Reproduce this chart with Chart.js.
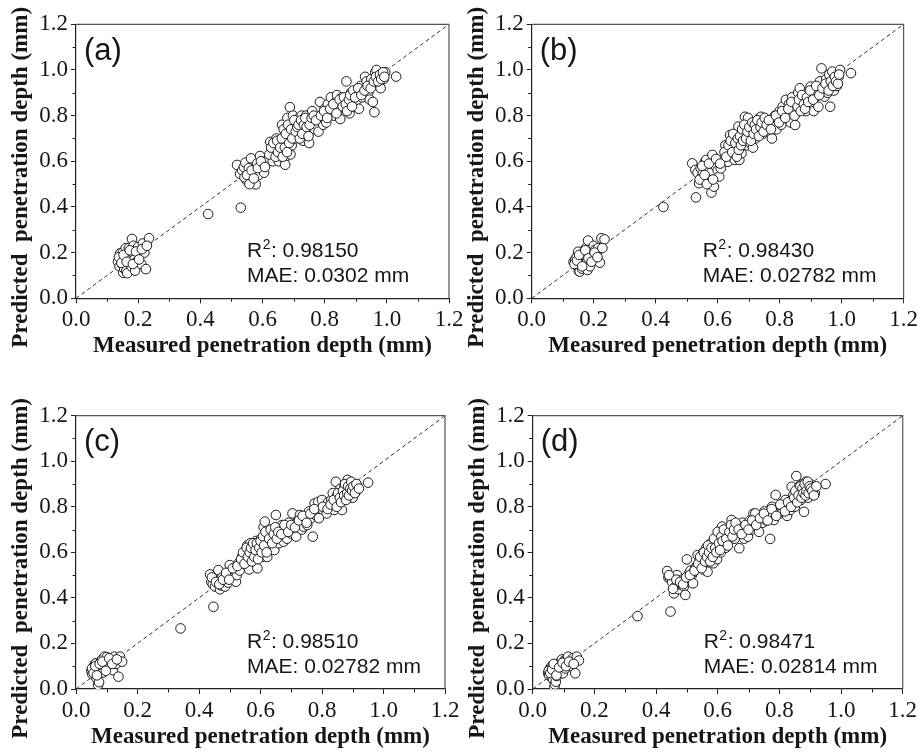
<!DOCTYPE html>
<html>
<head>
<meta charset="utf-8">
<script src="https://cdn.jsdelivr.net/npm/chart.js@4.4.1/dist/chart.umd.min.js"></script>
<style>
  html, body { margin: 0; padding: 0; background: #ffffff; }
  body { width: 921px; height: 752px; position: relative; overflow: hidden; }
  canvas { position: absolute; }
</style>
</head>
<body>
<canvas id="panelA"></canvas>
<canvas id="panelB"></canvas>
<canvas id="panelC"></canvas>
<canvas id="panelD"></canvas>
<script>
// ---- data -------------------------------------------------------------
const tickValues = [0.0, 0.2, 0.4, 0.6, 0.8, 1.0, 1.2];
const minorTickValues = [0.1, 0.3, 0.5, 0.7, 0.9, 1.1];
const identityLine = [0, 1.2];

// measured depths shared by models (a) and (b)
const measuredAB = [
  0.135,0.14,0.142,0.145,0.148,0.15,0.152,0.155,0.158,0.16,
  0.162,0.165,0.168,0.17,0.172,0.175,0.178,0.18,0.182,0.185,
  0.188,0.19,0.195,0.2,0.205,0.21,0.215,0.22,0.225,0.235,
  0.425,0.53,
  0.518,0.528,0.535,0.54,0.545,0.548,0.552,0.556,0.56,0.563,
  0.566,0.57,0.574,0.578,0.58,0.583,0.588,0.592,0.6,0.605,0.61,0.615,
  0.62,0.625,0.63,0.633,0.637,0.64,0.645,0.648,0.652,0.655,
  0.66,0.663,0.667,0.67,0.673,0.677,0.68,0.684,0.688,0.69,
  0.694,0.698,0.7,0.705,0.71,0.714,0.718,0.722,0.726,0.73,
  0.735,0.74,0.745,0.75,0.755,0.76,0.768,0.775,0.78,0.785,
  0.79,0.795,0.8,0.805,0.81,0.815,0.82,0.825,0.83,0.835,
  0.84,0.845,0.85,0.855,0.86,0.865,0.87,0.875,0.88,0.885,
  0.89,0.895,0.9,0.905,0.91,0.915,0.92,0.925,0.93,0.935,
  0.94,0.945,0.95,0.955,0.96,0.963,0.967,0.97,0.975,0.98,
  0.985,0.99,0.995,1.03,
  0.138,0.146,0.153,0.163,0.173,0.183,0.193,0.203,0.212,0.228,
  0.542,0.55,0.558,0.565,0.572,0.585,0.595,0.608,
  0.622,0.628,0.635,0.642,0.647,0.65,0.657,0.662,0.665,0.668,
  0.672,0.675,0.679,0.682,0.686,0.692,0.696,0.702,0.707,0.712,
  0.716,0.72,0.724,0.728,0.733,0.738,0.742,0.748,0.752,0.758,
  0.765,0.772,0.788,0.798,0.808,0.818,0.828,0.838,0.848,0.858,
  0.862,0.868,0.872,0.878,0.882,0.888,0.892,0.898,0.908,0.918,
  0.928,0.938,0.948,0.958,0.965,0.972,0.978,0.982,0.988,0.992
];
const predictedA = [
  0.16,0.14,0.197,0.17,0.15,0.20,0.112,0.13,0.18,0.22,
  0.12,0.11,0.193,0.22,0.153,0.18,0.14,0.26,0.20,0.23,
  0.17,0.121,0.16,0.225,0.193,0.15,0.24,0.20,0.128,0.263,
  0.369,0.397,
  0.584,0.545,0.56,0.575,0.594,0.518,0.53,0.57,0.511,0.613,
  0.52,0.507,0.55,0.499,0.577,0.591,0.54,0.623,0.58,0.55,0.59,0.606,
  0.61,0.685,0.65,0.6,0.63,0.665,0.70,0.62,0.60,0.67,
  0.64,0.76,0.70,0.61,0.585,0.69,0.79,0.72,0.837,0.63,
  0.67,0.80,0.74,0.70,0.77,0.72,0.79,0.75,0.80,0.69,
  0.77,0.80,0.73,0.68,0.78,0.82,0.74,0.76,0.73,0.86,
  0.79,0.76,0.83,0.77,0.85,0.80,0.88,0.82,0.80,0.86,
  0.89,0.84,0.785,0.88,0.87,0.83,0.95,0.86,0.81,0.90,
  0.86,0.84,0.90,0.87,0.83,0.93,0.88,0.91,0.97,0.95,
  0.90,0.87,0.96,0.86,0.815,0.99,1.0,0.97,0.94,0.92,
  0.98,0.96,0.99,0.971,
  0.18,0.155,0.19,0.16,0.21,0.15,0.205,0.17,0.215,0.23,
  0.53,0.54,0.50,0.56,0.525,0.57,0.60,0.575,
  0.63,0.66,0.68,0.62,0.69,0.64,0.66,0.70,0.62,0.74,
  0.66,0.72,0.64,0.76,0.68,0.74,0.70,0.78,0.73,0.75,
  0.76,0.70,0.78,0.72,0.76,0.79,0.75,0.71,0.76,0.79,
  0.80,0.78,0.80,0.82,0.79,0.83,0.85,0.81,0.87,0.84,
  0.88,0.85,0.82,0.87,0.89,0.84,0.91,0.88,0.92,0.89,
  0.91,0.93,0.92,0.95,0.97,0.95,0.98,0.96,0.99,0.97
];
const predictedB = [
  0.16,0.17,0.15,0.18,0.14,0.204,0.12,0.117,0.146,0.19,
  0.13,0.17,0.20,0.15,0.19,0.22,0.16,0.124,0.253,0.21,
  0.14,0.18,0.175,0.23,0.212,0.19,0.22,0.156,0.263,0.258,
  0.40,0.442,
  0.591,0.562,0.55,0.504,0.57,0.53,0.547,0.518,0.6,0.606,
  0.511,0.569,0.54,0.55,0.463,0.628,0.489,0.58,0.56,0.533,0.569,0.6,
  0.61,0.67,0.64,0.598,0.655,0.715,0.62,0.70,0.66,0.606,
  0.68,0.64,0.752,0.606,0.66,0.635,0.72,0.69,0.795,0.74,
  0.67,0.79,0.72,0.68,0.75,0.66,0.77,0.70,0.74,0.723,
  0.79,0.795,0.72,0.76,0.74,0.78,0.75,0.70,0.767,0.80,
  0.74,0.78,0.82,0.76,0.84,0.80,0.869,0.80,0.85,0.77,
  0.88,0.83,0.759,0.86,0.90,0.92,0.84,0.88,0.847,0.82,
  0.90,0.87,0.927,0.85,0.82,0.88,0.90,0.839,0.95,1.007,
  0.92,0.883,0.96,0.90,0.98,0.839,0.94,0.993,0.91,0.96,
  0.93,0.97,1.0,0.986,
  0.15,0.165,0.19,0.14,0.21,0.175,0.16,0.20,0.18,0.22,
  0.52,0.58,0.54,0.50,0.59,0.52,0.61,0.59,
  0.64,0.62,0.67,0.69,0.64,0.72,0.68,0.62,0.70,0.65,
  0.71,0.67,0.74,0.69,0.76,0.70,0.73,0.75,0.69,0.77,
  0.72,0.76,0.74,0.78,0.71,0.75,0.77,0.73,0.79,0.76,
  0.78,0.74,0.80,0.77,0.82,0.79,0.83,0.86,0.80,0.84,
  0.87,0.82,0.89,0.85,0.83,0.88,0.86,0.91,0.87,0.93,
  0.89,0.92,0.94,0.91,0.95,0.93,0.97,0.95,0.94,0.98
];

// measured depths shared by models (c) and (d)
const measuredCD = [
  0.05,0.053,0.056,0.058,0.06,0.062,0.065,0.067,0.07,0.072,
  0.075,0.078,0.08,0.083,0.085,0.088,0.09,0.093,0.095,0.098,
  0.1,0.103,0.106,0.11,0.115,0.12,0.125,0.13,0.138,0.143,0.15,
  0.34,0.447,
  0.436,0.44,0.445,0.452,0.458,0.463,0.468,0.472,0.476,0.48,
  0.485,0.49,0.495,0.5,0.503,0.507,0.512,0.516,0.52,0.523,0.527,0.532,
  0.535,0.54,0.545,0.55,0.553,0.557,0.56,0.563,0.567,0.57,
  0.574,0.578,0.582,0.586,0.59,0.594,0.598,0.602,0.606,0.61,
  0.614,0.618,0.622,0.626,0.63,0.635,0.64,0.645,0.65,0.655,
  0.66,0.665,0.67,0.675,0.68,0.686,0.692,0.698,0.704,0.71,
  0.716,0.722,0.728,0.734,0.74,0.746,0.752,0.758,0.764,0.77,
  0.776,0.782,0.788,0.795,0.8,0.805,0.81,0.815,0.82,0.825,
  0.83,0.835,0.84,0.845,0.85,0.855,0.86,0.865,0.87,0.873,
  0.876,0.88,0.883,0.886,0.89,0.893,0.896,0.9,0.905,0.91,
  0.915,0.95,
  0.052,0.057,0.063,0.068,0.077,0.086,0.097,0.108,0.118,0.133,
  0.442,0.455,0.466,0.478,0.488,0.498,0.51,0.525,
  0.537,0.543,0.548,0.555,0.559,0.565,0.569,0.572,0.576,0.58,
  0.584,0.588,0.592,0.596,0.6,0.604,0.608,0.612,0.616,0.62,
  0.628,0.633,0.638,0.643,0.648,0.653,0.658,0.668,0.678,0.69,
  0.7,0.712,0.725,0.737,0.75,0.762,0.775,0.79,0.803,0.818,
  0.828,0.838,0.848,0.852,0.858,0.862,0.868,0.872,0.875,0.878,
  0.882,0.885,0.888,0.892,0.895,0.898,0.902,0.907,0.912,0.92
];
const predictedC = [
  0.08,0.065,0.09,0.10,0.075,0.11,0.113,0.047,0.09,0.018,
  0.03,0.10,0.12,0.085,0.13,0.072,0.11,0.142,0.10,0.125,
  0.14,0.09,0.12,0.10,0.13,0.083,0.142,0.11,0.054,0.142,0.12,
  0.266,0.361,
  0.503,0.47,0.46,0.45,0.48,0.522,0.438,0.455,0.49,0.47,
  0.45,0.50,0.467,0.544,0.50,0.52,0.49,0.53,0.471,0.50,0.55,0.52,
  0.55,0.581,0.57,0.60,0.56,0.63,0.54,0.525,0.64,0.59,
  0.62,0.603,0.57,0.65,0.53,0.60,0.63,0.66,0.58,0.71,
  0.735,0.62,0.58,0.65,0.62,0.68,0.66,0.61,0.764,0.70,
  0.64,0.69,0.72,0.647,0.70,0.66,0.73,0.683,0.771,0.70,
  0.669,0.74,0.764,0.70,0.713,0.75,0.72,0.78,0.75,0.669,
  0.815,0.76,0.822,0.79,0.83,0.78,0.80,0.771,0.82,0.80,
  0.83,0.86,0.786,0.91,0.85,0.82,0.88,0.786,0.84,0.89,
  0.86,0.88,0.918,0.90,0.84,0.87,0.90,0.84,0.88,0.866,
  0.89,0.906,
  0.09,0.07,0.10,0.06,0.11,0.12,0.08,0.135,0.11,0.13,
  0.49,0.47,0.46,0.48,0.51,0.48,0.53,0.54,
  0.57,0.60,0.55,0.62,0.58,0.60,0.62,0.56,0.64,0.58,
  0.61,0.64,0.57,0.62,0.65,0.60,0.67,0.63,0.69,0.60,
  0.66,0.70,0.64,0.68,0.71,0.66,0.69,0.68,0.72,0.69,
  0.72,0.71,0.74,0.76,0.73,0.77,0.79,0.75,0.80,0.79,
  0.81,0.83,0.80,0.86,0.84,0.82,0.87,0.85,0.90,0.83,
  0.86,0.89,0.85,0.88,0.91,0.87,0.89,0.86,0.90,0.88
];
const predictedD = [
  0.07,0.061,0.09,0.08,0.098,0.05,0.10,0.04,0.006,0.02,
  0.032,0.057,0.09,0.11,0.08,0.105,0.12,0.07,0.13,0.069,
  0.10,0.125,0.09,0.13,0.142,0.113,0.10,0.135,0.069,0.142,0.125,
  0.32,0.34,
  0.518,0.49,0.486,0.47,0.42,0.45,0.50,0.438,0.46,0.464,
  0.48,0.45,0.413,0.569,0.49,0.508,0.52,0.50,0.464,0.515,0.53,0.54,
  0.588,0.56,0.58,0.55,0.60,0.522,0.57,0.62,0.515,0.618,
  0.59,0.64,0.60,0.552,0.65,0.61,0.57,0.63,0.66,0.60,
  0.713,0.64,0.69,0.62,0.67,0.65,0.70,0.742,0.68,0.66,
  0.72,0.70,0.618,0.69,0.73,0.66,0.71,0.669,0.74,0.70,
  0.77,0.771,0.72,0.69,0.75,0.73,0.78,0.74,0.76,0.659,
  0.80,0.742,0.852,0.79,0.77,0.81,0.778,0.80,0.83,0.76,
  0.80,0.786,0.888,0.85,0.80,0.935,0.86,0.89,0.83,0.87,
  0.90,0.778,0.85,0.91,0.88,0.84,0.87,0.90,0.859,0.88,
  0.86,0.90,
  0.08,0.07,0.085,0.11,0.06,0.095,0.115,0.10,0.12,0.11,
  0.50,0.44,0.48,0.47,0.46,0.49,0.50,0.52,
  0.55,0.58,0.53,0.60,0.56,0.58,0.63,0.60,0.56,0.62,
  0.58,0.66,0.62,0.60,0.69,0.64,0.61,0.67,0.65,0.70,
  0.66,0.63,0.69,0.72,0.67,0.70,0.73,0.70,0.68,0.72,
  0.70,0.74,0.72,0.75,0.77,0.74,0.79,0.76,0.81,0.78,
  0.82,0.80,0.84,0.87,0.82,0.85,0.89,0.84,0.88,0.86,
  0.90,0.85,0.87,0.91,0.86,0.89,0.88,0.87,0.85,0.89
];

const panelLabels = ['(a)', '(b)', '(c)', '(d)'];
const r2Values = ['0.98150', '0.98430', '0.98510', '0.98471'];
const maeValues = ['0.0302', '0.02782', '0.02782', '0.02814'];
const xTitle = 'Measured penetration depth (mm)';
const yTitle = 'Predicted  penetration depth (mm)';

// ---- layout -----------------------------------------------------------
const Y_AXIS_W = 60;
const X_AXIS_H = 40;
const SERIF = '"Liberation Serif", "Times New Roman", serif';
const SANS = '"Liberation Sans", Arial, sans-serif';
const INK = '#161616';

// canvas box [left, top, width, height] and plot rect [left, top, right, bottom] in page px
const layout = [
  { id: 'panelA', box: [0, 0, 468, 380],     plot: [76, 24.3, 449, 298.3] },
  { id: 'panelB', box: [455, 0, 466, 380],   plot: [531.7, 24.3, 904.3, 298.3] },
  { id: 'panelC', box: [0, 391, 466, 361],   plot: [76, 415.7, 445, 689] },
  { id: 'panelD', box: [456, 391, 465, 361], plot: [532.7, 415.7, 902.7, 689] }
];
const series = [
  [measuredAB, predictedA],
  [measuredAB, predictedB],
  [measuredCD, predictedC],
  [measuredCD, predictedD]
];

// frame, minor ticks, titles and annotations
const decorations = {
  id: 'decorations',
  afterDraw(chart, args, opts) {
    const { ctx, chartArea: a, scales } = chart;
    const i = opts.index;
    ctx.save();

    // top and right frame
    ctx.strokeStyle = '#555';
    ctx.lineWidth = 1.2;
    ctx.beginPath();
    ctx.moveTo(a.left, a.top);
    ctx.lineTo(a.right, a.top);
    ctx.lineTo(a.right, a.bottom);
    ctx.stroke();

    // minor ticks
    ctx.strokeStyle = '#222';
    ctx.lineWidth = 1;
    ctx.beginPath();
    minorTickValues.forEach(v => {
      const px = Math.round(scales.x.getPixelForValue(v)) + 0.5;
      ctx.moveTo(px, a.bottom);
      ctx.lineTo(px, a.bottom + 3.5);
      const py = Math.round(scales.y.getPixelForValue(v)) + 0.5;
      ctx.moveTo(a.left, py);
      ctx.lineTo(a.left - 3.5, py);
    });
    ctx.stroke();

    ctx.fillStyle = INK;

    // axis titles
    ctx.font = 'bold 23px ' + SERIF;
    ctx.textAlign = 'center';
    ctx.textBaseline = 'alphabetic';
    ctx.fillText(xTitle, (a.left + a.right) / 2, a.bottom + 53.5);
    ctx.save();
    ctx.translate(a.left - 49, (a.top + a.bottom) / 2 + 16);
    ctx.rotate(-Math.PI / 2);
    ctx.fillText(yTitle, 0, 0);
    ctx.restore();

    // panel label
    ctx.textAlign = 'left';
    ctx.font = '31px ' + SANS;
    ctx.fillText(panelLabels[i], a.left + 8, a.top + 35.7);

    // statistics
    const x0 = a.left + 171;
    const base1 = a.bottom - 41.5;
    const base2 = a.bottom - 16.5;
    ctx.font = '21px ' + SANS;
    ctx.fillText('R', x0, base1);
    const wR = ctx.measureText('R').width;
    ctx.font = '14px ' + SANS;
    ctx.fillText('2', x0 + wR + 0.5, base1 - 8);
    const w2 = ctx.measureText('2').width;
    ctx.font = '21px ' + SANS;
    ctx.fillText(': ' + r2Values[i], x0 + wR + w2 + 1, base1);
    ctx.fillText('MAE: ' + maeValues[i] + ' mm', x0, base2);

    ctx.restore();
  }
};

function axisOptions(fitSize) {
  return {
    type: 'linear',
    min: identityLine[0],
    max: identityLine[1],
    afterBuildTicks(s) { s.ticks = tickValues.map(v => ({ value: v })); },
    afterFit: fitSize,
    ticks: {
      autoSkip: false,
      maxRotation: 0,
      padding: 3,
      color: INK,
      font: { family: SERIF, size: 23 },
      callback: v => Number(v).toFixed(1)
    },
    grid: {
      drawOnChartArea: false,
      drawTicks: true,
      tickLength: 5,
      color: '#222',
      lineWidth: 1
    },
    border: { display: true, color: '#222', width: 1.2 }
  };
}

layout.forEach((p, i) => {
  const cv = document.getElementById(p.id);
  const [bx, by, bw, bh] = p.box;
  const [pl, pt, pr, pb] = p.plot;
  cv.width = bw; cv.height = bh;
  cv.style.left = bx + 'px'; cv.style.top = by + 'px';
  cv.style.width = bw + 'px'; cv.style.height = bh + 'px';

  const [xs, ys] = series[i];
  const points = xs.map((x, k) => ({ x: x, y: ys[k] }));

  new Chart(cv, {
    data: {
      datasets: [
        {
          type: 'scatter',
          data: points,
          pointRadius: 4.8,
          pointHoverRadius: 4.8,
          pointBackgroundColor: '#ffffff',
          pointBorderColor: '#1a1a1a',
          pointBorderWidth: 1
        },
        {
          type: 'line',
          data: [
            { x: identityLine[0], y: identityLine[0] },
            { x: identityLine[1], y: identityLine[1] }
          ],
          borderColor: '#333',
          borderWidth: 1,
          borderDash: [4, 3],
          pointRadius: 0,
          fill: false
        }
      ]
    },
    options: {
      responsive: false,
      animation: false,
      devicePixelRatio: 1,
      layout: {
        padding: {
          left: pl - bx - Y_AXIS_W,
          top: pt - by,
          right: bx + bw - pr,
          bottom: by + bh - pb - X_AXIS_H
        }
      },
      plugins: {
        legend: { display: false },
        tooltip: { enabled: false },
        decorations: { index: i }
      },
      scales: {
        x: axisOptions(s => { s.height = X_AXIS_H; }),
        y: axisOptions(s => { s.width = Y_AXIS_W; })
      }
    },
    plugins: [decorations]
  });
});
</script>
</body>
</html>
